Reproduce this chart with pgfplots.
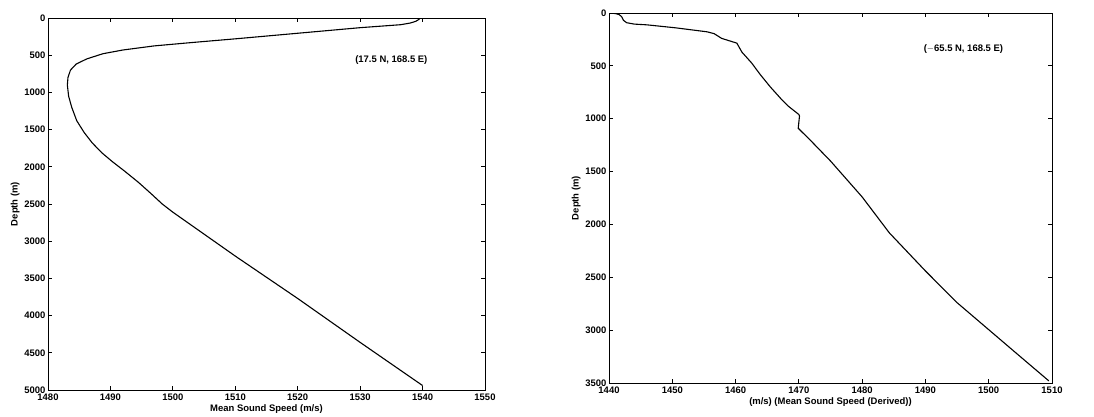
\documentclass[border=0pt]{standalone}
\usepackage{fontspec}
\setmainfont{Liberation Sans}
\usepackage{pgfplots}
\pgfplotsset{compat=1.18}
\newcommand{\ff}{\fontsize{9.5}{11}\selectfont\bfseries}
\pgfplotsset{
  myax/.style={
    scale only axis, y dir=reverse, anchor=south west,
    tick align=inside, tick pos=both, major tick length=4bp,
    axis line style={line width=0.9bp},
    every tick/.style={black, line width=0.8bp},
    tick label style={font=\ff},
    label style={font=\ff},
    /pgf/number format/assume math mode=true,
    /pgf/number format/set thousands separator={},
    xticklabel style={yshift=-0.5bp},
    yticklabel style={xshift=1bp},
    xlabel style={yshift=3bp},
    ylabel style={yshift=-2bp},
  }
}
\begin{document}
\begin{tikzpicture}
\useasboundingbox (0,0) rectangle (1094bp,417bp);
\begin{axis}[myax, at={(48bp,27bp)}, width=437bp, height=372bp,
  xmin=1480, xmax=1550, ymin=0, ymax=5000,
  xtick={1480,1490,...,1550}, ytick={0,500,...,5000},
  xlabel={Mean Sound Speed (m/s)}, ylabel={Depth (m)}]
\addplot[black, line width=1.1bp] coordinates {
(1539.6,0) (1539.4,20) (1538.9,45) (1538.0,68) (1536.5,90) (1530,130) (1520,205)
(1510,280) (1503,330) (1497,375) (1492,430) (1488.8,480) (1486.2,550) (1484.5,620)
(1483.6,700) (1483.2,800) (1483.1,900) (1483.3,1050) (1483.8,1200)
(1484.6,1380) (1485.8,1540) (1487.1,1680) (1488.6,1810) (1490.3,1930)
(1492.3,2060) (1494.5,2210) (1496.5,2360) (1498.3,2500)
(1500,2610) (1510,3200) (1520,3770) (1530,4360) (1540,4940)
};
\node[font=\ff] at (axis cs:1535,560) {(17.5 N, 168.5 E)};
\end{axis}
\begin{axis}[myax, at={(609bp,34bp)}, width=443bp, height=370bp,
  xmin=1440, xmax=1510, ymin=0, ymax=3500,
  xtick={1440,1450,...,1510}, ytick={0,500,...,3500},
  xlabel={(m/s) (Mean Sound Speed (Derived))}, ylabel={Depth (m)}]
\addplot[black, line width=1.1bp] coordinates {
(1440.1,0) (1441.0,5) (1441.6,15) (1442.0,35) (1442.3,70) (1442.8,92)
(1444,105) (1446,112) (1450.5,140) (1455.5,178) (1456.6,195) (1457.8,240)
(1460.2,285) (1461,370) (1462.5,470) (1464,590) (1465.5,700) (1467.3,820)
(1468.3,880) (1470,960) (1470.1,975) (1469.9,1090) (1472,1215) (1475,1400)
(1480,1740) (1484.3,2080) (1490,2440) (1495,2740) (1499.5,2970) (1504,3200)
(1509.5,3480)
};
\node[font=\ff] at (axis cs:1496,340) {($-$65.5 N, 168.5 E)};
\end{axis}
\end{tikzpicture}
\end{document}
